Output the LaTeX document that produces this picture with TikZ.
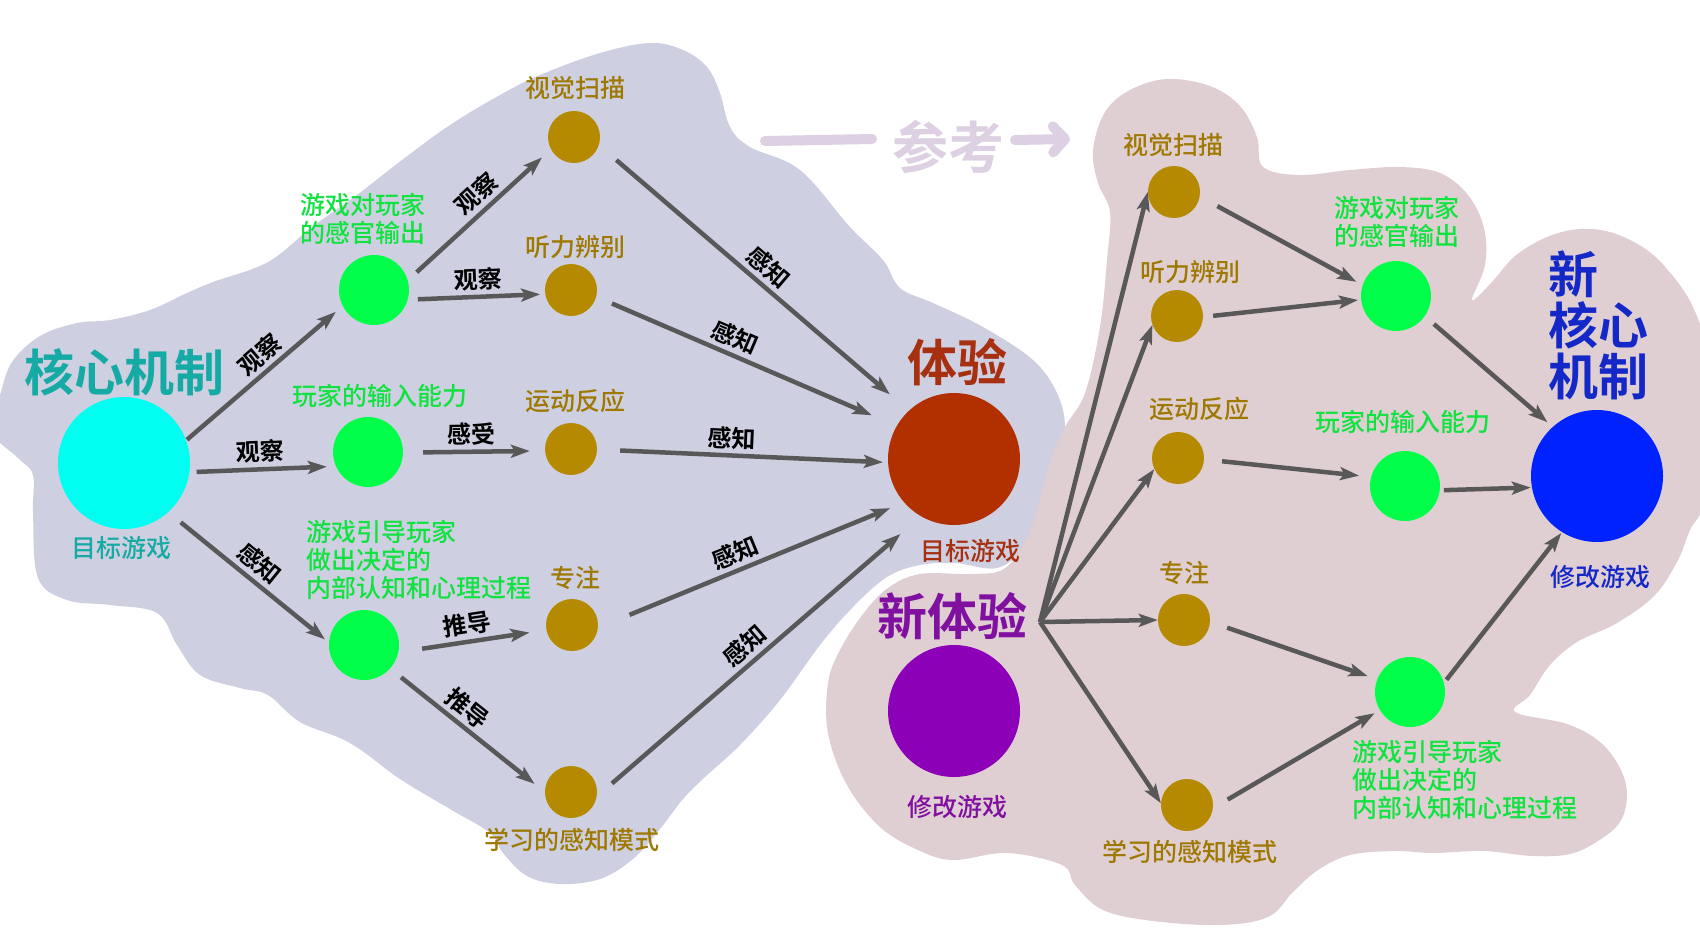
\documentclass[tikz,border=0pt]{standalone}
\usepackage{fontspec}
\setmainfont{Noto Sans CJK SC}[UprightFont={* Medium},BoldFont={* Bold}]
\usetikzlibrary{arrows.meta}

\definecolor{lavbg}{RGB}{206,208,225}
\definecolor{pinkbg}{RGB}{224,207,210}
\definecolor{cyanc}{RGB}{0,255,240}
\definecolor{tealtxt}{RGB}{22,170,165}
\definecolor{greenc}{RGB}{0,255,72}
\definecolor{greentxt}{RGB}{16,226,64}
\definecolor{goldc}{RGB}{181,138,0}
\definecolor{goldtxt}{RGB}{158,120,0}
\definecolor{redc}{RGB}{178,48,0}
\definecolor{redtxt}{RGB}{166,48,16}
\definecolor{purplec}{RGB}{140,0,184}
\definecolor{purpletxt}{RGB}{128,16,160}
\definecolor{bluec}{RGB}{0,34,255}
\definecolor{bluetxt}{RGB}{20,40,200}
\definecolor{edgegray}{RGB}{88,88,88}
\definecolor{reftxt}{RGB}{221,208,227}

\begin{document}
\begin{tikzpicture}[x=1pt,y=-1pt,
  bigc/.style={circle,inner sep=0pt,minimum size=132pt},
  midc/.style={circle,inner sep=0pt,minimum size=70pt,fill=greenc},
  dot/.style={circle,inner sep=0pt,minimum size=52pt,fill=goldc},
  arr/.style={draw=edgegray,line width=4.5pt,-{Stealth[length=19pt,width=13pt,inset=4pt]}},
  elbl/.style={sloped,above,inner sep=4pt,font=\fontsize{24}{24}\selectfont\bfseries},
  lbl/.style={inner sep=0pt,font=\fontsize{25}{28}\selectfont},
  title/.style={inner sep=0pt,font=\fontsize{50}{51}\selectfont\bfseries},
  refline/.style={draw=reftxt,line width=10pt,line cap=round,line join=round}]
  \fill[white] (0,0) rectangle (1700,946);
  \useasboundingbox (0,0) rectangle (1700,946);

  \fill[lavbg] plot[smooth cycle,tension=.6] coordinates {
    (-10,430) (0,395) (12,362) (40,336) (77,323) (110,320) (150,310) (187,293)
    (213,282) (268,262) (312,227) (357,195) (402,160) (450,125) (500,95) (540,75)
    (600,53) (650,43) (683,50) (707,67) (720,93) (730,127) (750,147) (800,170)
    (850,227) (883,260) (900,288) (933,303) (983,327) (1033,360) (1057,393)
    (1065,427) (1058,460) (1040,515) (1025,547) (997,568) (955,563) (920,565)
    (887,577) (853,607) (820,645) (780,700) (740,745) (705,777) (683,799)
    (660,829) (633,859) (600,879) (560,884) (527,876) (503,853) (490,833)
    (450,809) (400,779) (350,743) (300,722) (268,695) (240,688) (200,675)
    (177,645) (157,613) (110,605) (67,600) (38,578) (33,513) (33,475) (18,458)};
  \fill[pinkbg] plot[smooth cycle,tension=.6] coordinates {
    (1093,150) (1105,112) (1130,90) (1167,79) (1210,86) (1240,106) (1257,137)
    (1263,167) (1300,175) (1350,170) (1400,167) (1440,173) (1468,195)
    (1484,228) (1485,265) (1472,300) (1492,282) (1515,256) (1547,237)
    (1580,229) (1613,233) (1647,250) (1672,275) (1692,305) (1705,345)
    (1712,420) (1705,500) (1690,530) (1678,560) (1655,595) (1617,623)
    (1577,642) (1550,665) (1530,695) (1515,712) (1567,724) (1600,742)
    (1620,768) (1627,795) (1620,822) (1598,841) (1570,854) (1533,856)
    (1483,851) (1433,853) (1395,851) (1350,855) (1318,870) (1293,892)
    (1268,917) (1220,925) (1153,921) (1103,910) (1075,885) (1062,865)
    (1007,853) (953,860) (918,850) (880,827) (847,785) (828,733) (828,683)
    (840,650) (863,614) (888,588) (920,574) (970,574) (1002,570) (1022,547)
    (1035,517) (1050,462) (1065,427) (1085,393) (1100,327) (1107,260)
    (1110,212) (1098,183)};

  \coordinate (refa) at (765,141);
  \coordinate (refb) at (872,139);
  \coordinate (refc) at (1015,140);
  \coordinate (refd) at (1070,139);
  \node[inner sep=0pt,font=\fontsize{56}{56}\selectfont\bfseries,text=reftxt] (ref) at (948,147) {参考};
  \draw[refline] (refa) -- (refb);
  \draw[refline,-{Straight Barb[length=12pt,width=26pt,round]}] (refc) -- (refd);

  \node[bigc,fill=cyanc] (core) at (124,463) {};
  \node[midc] (out1) at (374,290) {};
  \node[midc] (in1) at (368,452) {};
  \node[midc] (cog1) at (364,645) {};
  \node[dot] (vis1) at (574,137) {};
  \node[dot] (aud1) at (571,290) {};
  \node[dot] (mot1) at (571,449) {};
  \node[dot] (foc1) at (572,625) {};
  \node[dot] (lrn1) at (571,792) {};
  \node[bigc,fill=redc] (exp) at (954,459) {};
  \node[bigc,fill=purplec] (newexp) at (954,711) {};
  \coordinate (hub) at (1040,622);
  \node[dot] (vis2) at (1174,192) {};
  \node[dot] (aud2) at (1177,316) {};
  \node[dot] (mot2) at (1178,458) {};
  \node[dot] (foc2) at (1184,620) {};
  \node[dot] (lrn2) at (1187,805) {};
  \node[midc] (out2) at (1396,296) {};
  \node[midc] (in2) at (1405,486) {};
  \node[midc] (cog2) at (1410,692) {};
  \node[bigc,fill=bluec] (newcore) at (1597,476) {};

  \node[title,text=tealtxt] (coret) at (124,372) {核心机制};
  \node[lbl,text=tealtxt] (corel) at (121,548) {目标游戏};
  \node[lbl,text=greentxt,align=center] (out1l) at (363,219) {游戏对玩家\\的感官输出};
  \node[lbl,text=greentxt] (in1l) at (380,396) {玩家的输入能力};
  \node[lbl,text=greentxt,align=left,anchor=west] (cog1l) at (306,560) {游戏引导玩家\\做出决定的\\内部认知和心理过程};
  \node[lbl,text=goldtxt] (vis1l) at (575,88) {视觉扫描};
  \node[lbl,text=goldtxt] (aud1l) at (575,247) {听力辨别};
  \node[lbl,text=goldtxt] (mot1l) at (575,401) {运动反应};
  \node[lbl,text=goldtxt] (foc1l) at (575,578) {专注};
  \node[lbl,text=goldtxt] (lrn1l) at (572,840) {学习的感知模式};
  \node[title,text=redtxt] (expt) at (957,362) {体验};
  \node[lbl,text=redtxt] (expl) at (970,551) {目标游戏};
  \node[title,text=purpletxt] (newexpt) at (952,616) {新体验};
  \node[lbl,text=purpletxt] (newexpl) at (957,807) {修改游戏};
  \node[lbl,text=goldtxt] (vis2l) at (1173,145) {视觉扫描};
  \node[lbl,text=goldtxt] (aud2l) at (1190,272) {听力辨别};
  \node[lbl,text=goldtxt] (mot2l) at (1199,409) {运动反应};
  \node[lbl,text=goldtxt] (foc2l) at (1184,573) {专注};
  \node[lbl,text=goldtxt] (lrn2l) at (1190,852) {学习的感知模式};
  \node[lbl,text=greentxt,align=center] (out2l) at (1397,222) {游戏对玩家\\的感官输出};
  \node[lbl,text=greentxt] (in2l) at (1403,422) {玩家的输入能力};
  \node[lbl,text=greentxt,align=left,anchor=west] (cog2l) at (1352,780) {游戏引导玩家\\做出决定的\\内部认知和心理过程};
  \node[title,text=bluetxt,align=left,anchor=west] (newcoret) at (1548,325) {新\\核心\\机制};
  \node[lbl,text=bluetxt] (newcorel) at (1600,577) {修改游戏};

  \draw[arr,shorten <=1pt,shorten >=9pt] (core.20) -- node[elbl,pos=.54] {观察} (out1.207);
  \draw[arr,shorten <=7pt,shorten >=9pt] (core.-8) -- node[elbl,pos=.49] {观察} (in1.204);
  \draw[arr,shorten <=16pt,shorten >=5pt] (core.-48) -- node[elbl,pos=.5] {感知} (cog1.176);
  \draw[arr,shorten <=12pt,shorten >=12pt] (out1.16) -- node[elbl,pos=.56] {观察} (vis1.208);
  \draw[arr,shorten <=10pt,shorten >=5pt] (out1.-16) -- node[elbl,pos=.52] {观察} (aud1.189);
  \draw[arr,shorten <=20pt,shorten >=15pt] (in1.-1) -- node[elbl,pos=.48] {感受} (mot1.184);
  \draw[arr,shorten <=24pt,shorten >=17pt] (cog1.-12) -- node[elbl,pos=.48] {推导} (foc1.191);
  \draw[arr,shorten <=14pt,shorten >=13pt] (cog1.-42) -- node[elbl,pos=.43] {推导} (lrn1.180);
  \draw[arr,shorten <=23pt,shorten >=25pt] (vis1.-18) -- node[elbl,pos=.51] {感知} (exp.133);
  \draw[arr,shorten <=17pt,shorten >=27pt] (aud1.-15) -- node[elbl,pos=.44] {感知} (exp.150);
  \draw[arr,shorten <=23pt,shorten >=5pt] (mot1.-1) -- node[elbl,pos=.46] {感知} (exp.183);
  \draw[arr,shorten <=34pt,shorten >=15pt] (foc1.-6) -- node[elbl,pos=.47] {感知} (exp.221);
  \draw[arr,shorten <=20pt,shorten >=27pt] (lrn1.-10) -- node[elbl,pos=.49] {感知} (exp.240);

  \draw[arr] (hub) -- (vis2.180);
  \draw[arr] (hub) -- (aud2.200);
  \draw[arr] (hub) -- (mot2.205);
  \draw[arr] (hub) -- (foc2.180);
  \draw[arr] (hub) -- (lrn2.176);
  \draw[arr,shorten <=20pt,shorten >=7pt] (vis2.-10) -- (out2.162);
  \draw[arr,shorten <=10pt,shorten >=3pt] (aud2.-2) -- (out2.186);
  \draw[arr,shorten <=18pt,shorten >=12pt] (mot2.-3) -- (in2.165);
  \draw[arr,shorten <=18pt,shorten >=10pt] (foc2.-4) -- (cog2.159);
  \draw[arr,shorten <=17pt,shorten >=6pt] (lrn2.-7) -- (cog2.211);
  \draw[arr,shorten <=12pt,shorten >=7pt] (out2.-35) -- (newcore.132);
  \draw[arr,shorten <=4pt,shorten >=1pt] (in2.-7) -- (newcore.190);
  \draw[arr,shorten <=4pt,shorten >=1pt] (cog2.15) -- (newcore.238);
\end{tikzpicture}
\end{document}
